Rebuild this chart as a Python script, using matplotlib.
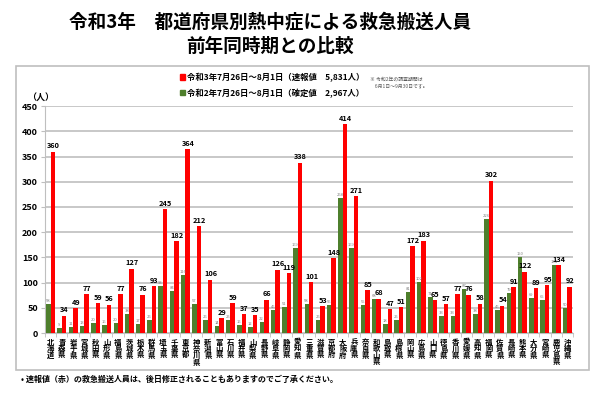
import matplotlib
matplotlib.use('Agg')
import matplotlib.pyplot as plt
import numpy as np
from matplotlib.patches import Rectangle

plt.rcParams['font.family'] = ['Noto Sans CJK JP', 'DejaVu Sans']

# 都道府県
prefs = ['北海道', '青森県', '岩手県', '宮城県', '秋田県', '山形県', '福島県', '茨城県', '栃木県', '群馬県',
         '埼玉県', '千葉県', '東京都', '神奈川県', '新潟県', '富山県', '石川県', '福井県', '山梨県', '長野県',
         '岐阜県', '静岡県', '愛知県', '三重県', '滋賀県', '京都府', '大阪府', '兵庫県', '奈良県', '和歌山県',
         '鳥取県', '島根県', '岡山県', '広島県', '山口県', '徳島県', '香川県', '愛媛県', '高知県', '福岡県',
         '佐賀県', '長崎県', '熊本県', '大分県', '宮崎県', '鹿児島県', '沖縄県']

# 令和3年（速報値）
r3 = [360, 34, 49, 77, 59, 56, 77, 127, 76, 93,
      245, 182, 364, 212, 106, 29, 59, 37, 35, 66,
      126, 119, 338, 101, 53, 148, 414, 271, 85, 68,
      47, 51, 172, 183, 65, 57, 77, 76, 58, 302,
      54, 91, 122, 89, 95, 134, 92]

# 令和2年（確定値）
r2 = [58, 9, 11, 13, 20, 16, 20, 38, 17, 26,
      93, 84, 116, 57, 26, 14, 25, 16, 12, 22,
      46, 51, 169, 58, 26, 56, 268, 169, 55, 68,
      18, 25, 81, 102, 71, 33, 33, 87, 38, 226,
      46, 79, 150, 69, 65, 134, 50]

red = '#FF0000'
green = '#4E7F2C'

fig = plt.figure(figsize=(6, 3.96), dpi=100)

# 外枠
fig.patches.append(Rectangle((0.027, 0.066), 0.955, 0.768, transform=fig.transFigure,
                             fill=False, edgecolor='#BFBFBF', linewidth=1.2))

fig.text(0.45, 0.945, '令和3年　都道府県別熱中症による救急搬送人員', ha='center', va='center',
         fontsize=13.4, fontweight='bold')
fig.text(0.45, 0.882, '前年同時期との比較', ha='center', va='center',
         fontsize=13.4, fontweight='bold')

ax = fig.add_axes([0.075, 0.159, 0.88, 0.573])
x = np.arange(len(prefs))
w = 0.4
ax.bar(x - 0.2, r2, width=w, color=green, zorder=3)
ax.bar(x + 0.2, r3, width=w, color=red, zorder=3)

for i in range(len(prefs)):
    ax.text(x[i] - 0.22, r2[i] + 2, str(r2[i]), ha='center', va='bottom',
            fontsize=3.0, color='#7F7F7F', zorder=4)
    ax.text(x[i] + 0.24, r3[i] + 5, str(r3[i]), ha='center', va='bottom',
            fontsize=5.3, fontweight='bold', color='black', zorder=4)

ax.set_xlim(-0.5, len(prefs) - 0.5)
ax.set_ylim(0, 450)
ax.set_yticks(range(0, 451, 50))
ax.yaxis.grid(True, color='#BFBFBF', linewidth=1.2, zorder=0)
ax.set_axisbelow(True)
for s in ['top', 'right']:
    ax.spines[s].set_visible(False)
ax.spines['left'].set_color('#BFBFBF')
ax.spines['bottom'].set_color('#BFBFBF')
ax.tick_params(axis='y', length=3, color='#BFBFBF', labelsize=6.5, pad=2)
for lab in ax.get_yticklabels():
    lab.set_fontweight('bold')

ax.set_xticks(np.arange(-0.5, len(prefs), 1), minor=True)
ax.set_xticks(x)
ax.set_xticklabels(['\n'.join(p) for p in prefs], fontsize=5.3, fontweight='bold',
                   linespacing=0.9, va='top')
ax.tick_params(axis='x', which='major', length=0, pad=4)
ax.tick_params(axis='x', which='minor', length=3, color='#BFBFBF')

fig.text(0.045, 0.755, '（人）', ha='left', va='center', fontsize=6.5, fontweight='bold')

# 凡例
fig.patches.append(Rectangle((0.300, 0.799), 0.009, 0.013, transform=fig.transFigure,
                             color=red))
fig.patches.append(Rectangle((0.300, 0.759), 0.009, 0.013, transform=fig.transFigure,
                             color=green))
fig.text(0.312, 0.805, '令和3年7月26日～8月1日（速報値　5,831人）', ha='left', va='center',
         fontsize=6, fontweight='bold')
fig.text(0.312, 0.765, '令和2年7月26日～8月1日（確定値　2,967人）', ha='left', va='center',
         fontsize=6, fontweight='bold')
fig.text(0.617, 0.792, '※ 令和2年の調査期間は\n　6月1日～9月30日です。', ha='left', va='center',
         fontsize=3.5, color='#595959', linespacing=1.3)

fig.text(0.035, 0.043, '• 速報値（赤）の救急搬送人員は、後日修正されることもありますのでご了承ください。',
         ha='left', va='center', fontsize=5.8, fontweight='bold')

fig.savefig('out.png', dpi=100)
